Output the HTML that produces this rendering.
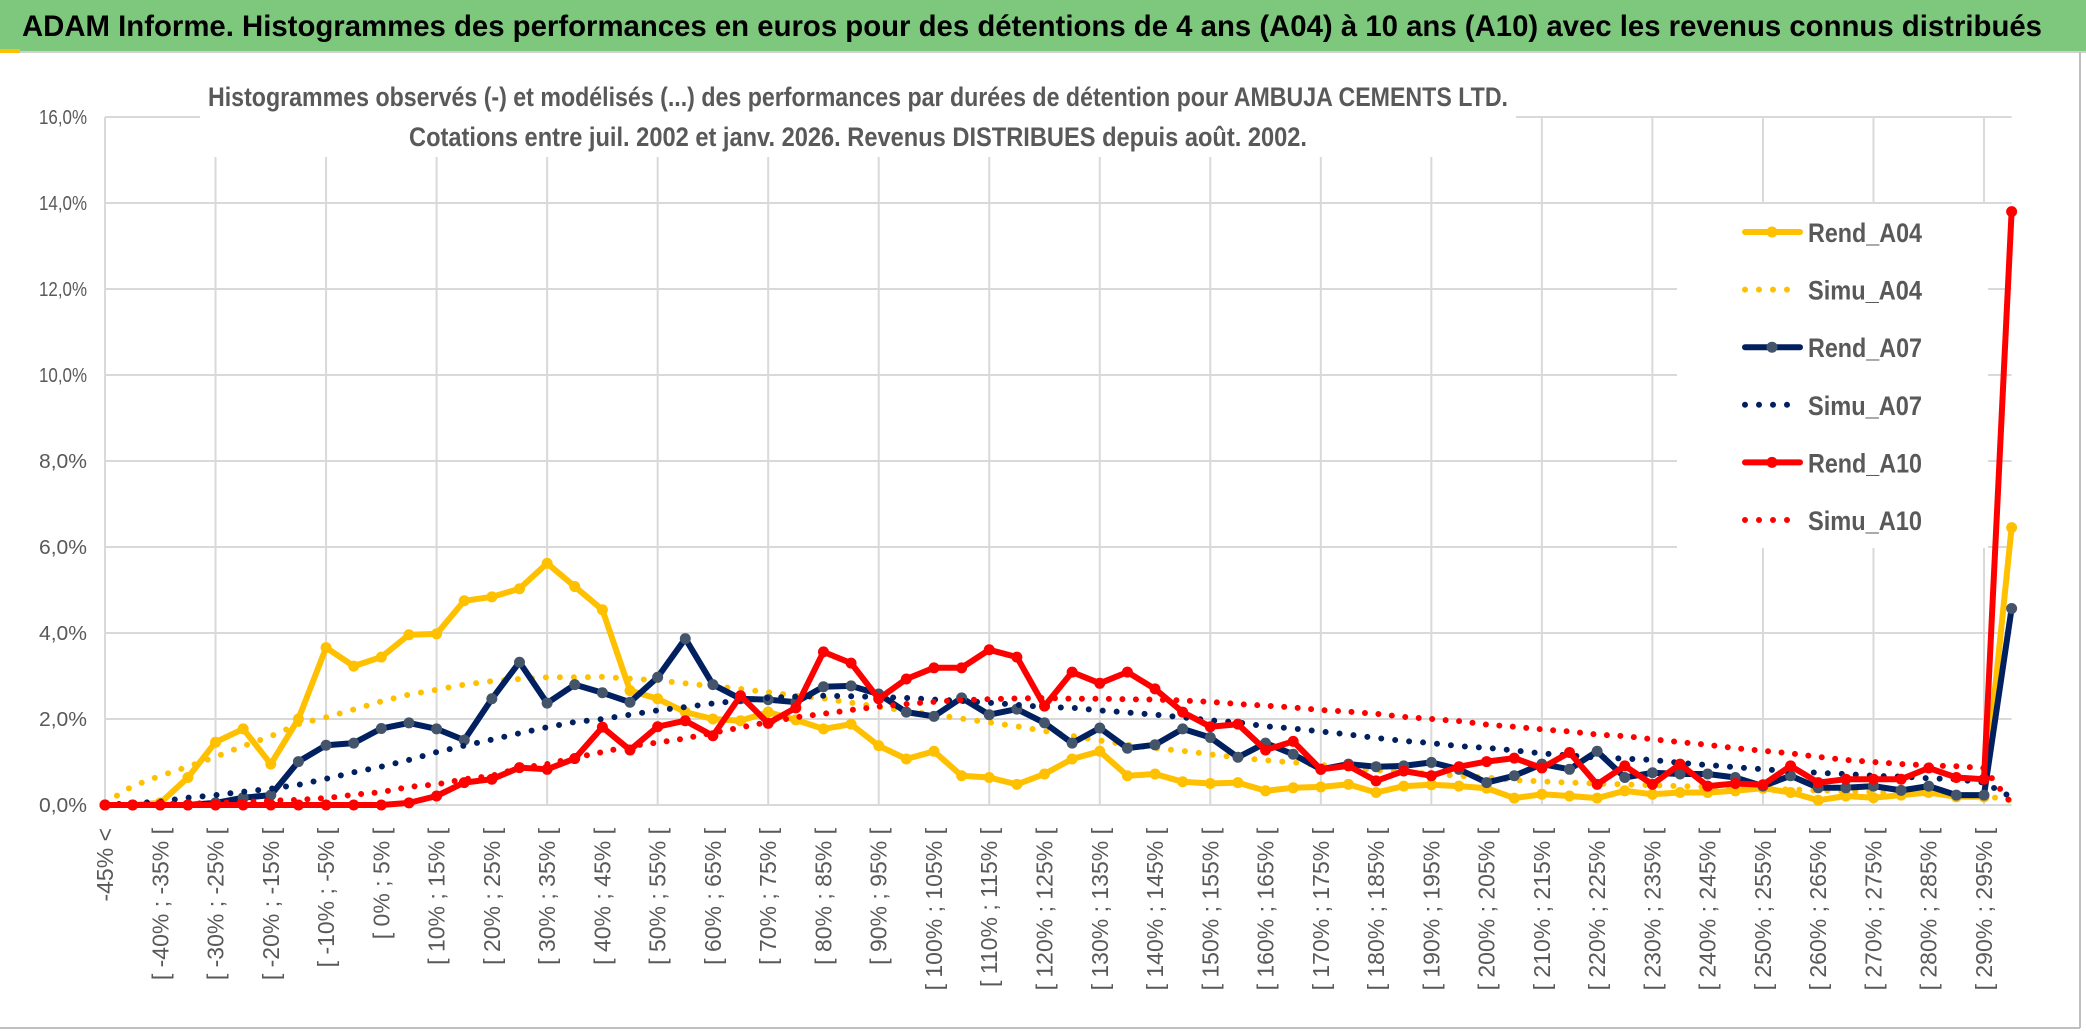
<!DOCTYPE html>
<html><head><meta charset="utf-8"><style>
html,body{margin:0;padding:0;background:#fff;}
svg{display:block;font-family:"Liberation Sans",sans-serif;}
</style></head><body>
<svg id="chart" width="2086" height="1031" viewBox="0 0 2086 1031" xmlns="http://www.w3.org/2000/svg">
<rect x="0" y="0" width="2086" height="1031" fill="#fff"/>
<rect x="0" y="0" width="2086" height="51" fill="#7ec87e"/>
<line x1="0" y1="52" x2="2086" y2="52" stroke="#d0d0d0" stroke-width="2"/>
<rect x="0" y="49" width="20" height="4" fill="#ffc000"/>
<text x="22" y="36" font-size="30" font-weight="bold" fill="#000" textLength="2020" lengthAdjust="spacingAndGlyphs">ADAM Informe. Histogrammes des performances en euros pour des détentions de 4 ans (A04) à 10 ans (A10) avec les revenus connus distribués</text>
<g id="grid"></g>
<g id="xlabels"></g>
<g id="ylabels"></g>
<rect x="200" y="60" width="1316" height="97" fill="#fff"/>
<text x="858" y="106" font-size="27" font-weight="bold" fill="#595959" text-anchor="middle" textLength="1300" lengthAdjust="spacingAndGlyphs">Histogrammes observés (-) et modélisés (...) des performances par durées de détention pour AMBUJA CEMENTS LTD.</text>
<text x="858" y="146" font-size="27" font-weight="bold" fill="#595959" text-anchor="middle" textLength="898" lengthAdjust="spacingAndGlyphs">Cotations entre juil. 2002 et janv. 2026. Revenus DISTRIBUES depuis août. 2002.</text>
<g id="series"></g>
<g id="legend"></g>
<line x1="2080" y1="52" x2="2080" y2="1028" stroke="#bfbfbf" stroke-width="2"/>
<line x1="0" y1="1028" x2="2080" y2="1028" stroke="#bfbfbf" stroke-width="2"/>
</svg>
<script>
const categories = ["-45% <"];
for (let a = -45; a < 295; a += 5) categories.push("[ " + a + "% ; " + (a + 5) + "% [");
categories.push("> 295%");
const yTicks = [0, 2, 4, 6, 8, 10, 12, 14, 16];
const yTickLabels = ["0,0%", "2,0%", "4,0%", "6,0%", "8,0%", "10,0%", "12,0%", "14,0%", "16,0%"];
const seriesNames = ["Rend_A04", "Simu_A04", "Rend_A07", "Simu_A07", "Rend_A10", "Simu_A10"];
const rendA04 = [0,0,0.05,0.64,1.46,1.77,0.95,2.0,3.66,3.23,
3.44,3.96,3.98,4.75,4.84,5.03,5.62,5.08,4.54,2.66,
2.47,2.16,2.0,1.96,2.16,1.98,1.77,1.88,1.38,1.07,
1.25,0.68,0.64,0.48,0.72,1.07,1.25,0.68,0.72,0.54,
0.5,0.52,0.33,0.4,0.42,0.48,0.29,0.44,0.47,0.44,
0.39,0.16,0.25,0.21,0.16,0.33,0.25,0.29,0.29,0.33,
0.39,0.29,0.11,0.21,0.17,0.23,0.29,0.19,0.19,6.45];
const simuA04 = [0.05,0.44,0.68,0.89,1.12,1.37,1.6,1.88,2.04,2.22,
2.41,2.57,2.68,2.8,2.88,2.93,2.97,2.97,2.98,2.94,
2.9,2.83,2.76,2.7,2.62,2.54,2.48,2.38,2.28,2.19,
2.1,2.01,1.92,1.83,1.72,1.61,1.5,1.4,1.32,1.26,
1.18,1.1,1.04,0.99,0.93,0.87,0.81,0.78,0.72,0.68,
0.64,0.58,0.55,0.52,0.5,0.48,0.46,0.44,0.42,0.4,
0.38,0.36,0.34,0.32,0.3,0.28,0.26,0.24,0.22,0.1];
const rendA07 = [0,0,0,0,0.05,0.17,0.23,1.01,1.39,1.44,
1.78,1.91,1.77,1.51,2.47,3.32,2.37,2.8,2.61,2.39,
2.97,3.87,2.8,2.47,2.45,2.39,2.75,2.77,2.58,2.16,
2.06,2.49,2.1,2.23,1.91,1.44,1.79,1.32,1.4,1.77,
1.57,1.11,1.44,1.18,0.83,0.95,0.89,0.91,0.99,0.83,
0.52,0.68,0.95,0.83,1.25,0.64,0.75,0.72,0.72,0.64,
0.44,0.68,0.4,0.4,0.44,0.34,0.44,0.23,0.23,4.57];
const simuA07 = [0.01,0.04,0.08,0.17,0.23,0.31,0.38,0.47,0.61,0.76,
0.89,1.05,1.23,1.38,1.52,1.67,1.81,1.93,2.0,2.1,
2.2,2.28,2.36,2.43,2.49,2.52,2.54,2.53,2.51,2.49,
2.45,2.42,2.38,2.33,2.28,2.26,2.2,2.15,2.1,2.04,
1.97,1.92,1.83,1.78,1.71,1.64,1.56,1.49,1.44,1.37,
1.33,1.27,1.2,1.15,1.1,1.08,1.05,0.98,0.93,0.88,
0.83,0.79,0.75,0.72,0.68,0.66,0.62,0.6,0.52,0.18];
const rendA10 = [0,0,0,0,0,0,0,0,0,0,
0,0.05,0.21,0.52,0.6,0.87,0.83,1.08,1.81,1.28,
1.82,1.96,1.61,2.54,1.9,2.26,3.56,3.3,2.47,2.93,
3.19,3.19,3.61,3.44,2.3,3.09,2.83,3.09,2.7,2.16,
1.82,1.88,1.28,1.48,0.83,0.91,0.56,0.79,0.68,0.89,
1.01,1.09,0.86,1.22,0.48,0.91,0.48,0.95,0.44,0.5,
0.47,0.91,0.52,0.6,0.6,0.6,0.86,0.64,0.6,13.8];
const simuA10 = [0,0.01,0.02,0.03,0.05,0.07,0.1,0.12,0.16,0.24,
0.3,0.42,0.48,0.6,0.68,0.86,0.95,1.1,1.23,1.37,
1.45,1.55,1.68,1.8,1.93,2.04,2.12,2.21,2.29,2.35,
2.4,2.44,2.46,2.48,2.49,2.47,2.47,2.46,2.45,2.43,
2.4,2.35,2.31,2.27,2.21,2.17,2.12,2.05,2.0,1.95,
1.87,1.82,1.76,1.71,1.64,1.6,1.53,1.46,1.4,1.32,
1.26,1.2,1.12,1.05,1.0,0.95,0.92,0.9,0.86,0.03];

const NS = "http://www.w3.org/2000/svg";
const X0 = 105, DX = (1984 - 105) / 68, Y0 = 805, PXPER = 43;
function xScale(i) { return X0 + DX * i; }
function yScale(v) { return Y0 - v * PXPER; }
function mk(tag, attrs, parent) {
  const e = document.createElementNS(NS, tag);
  for (const k in attrs) e.setAttribute(k, attrs[k]);
  parent.appendChild(e);
  return e;
}
const grid = document.getElementById("grid");
const xEnd = xScale(categories.length - 1);
yTicks.forEach((t, i) => {
  const l = mk("line", {x1: X0, x2: xEnd, y1: yScale(t), y2: yScale(t), stroke: "#d9d9d9", "stroke-width": 2}, grid);
  
  
  const tx = mk("text", {x: 87, y: yScale(t) + 7, "font-size": 20, fill: "#595959", "text-anchor": "end", textLength: 48, lengthAdjust: "spacingAndGlyphs"}, document.getElementById("ylabels"));
  tx.textContent = yTickLabels[i];
  
  
});
for (let i = 0; i < categories.length; i += 4) {
  const l = mk("line", {x1: xScale(i), x2: xScale(i), y1: yScale(16), y2: Y0, stroke: "#d9d9d9", "stroke-width": 2}, grid);
  
  
}
const xl = document.getElementById("xlabels");
categories.forEach((c, i) => {
  if (i % 2 !== 0 || i === categories.length - 1) return;
  const x = xScale(i) + 8, y = 828;
  const t = mk("text", {x: x, y: y, "font-size": 23, fill: "#595959", "text-anchor": "end", transform: "rotate(-90 " + x + " " + y + ")"}, xl);
  t.textContent = c;
  
  
});
const styles = [
  {data: rendA04, color: "#ffc000", marker: "#ffc000", dotted: false},
  {data: simuA04, color: "#ffc000", dotted: true, dash: 14},
  {data: rendA07, color: "#002060", marker: "#44546a", dotted: false},
  {data: simuA07, color: "#002060", dotted: true, dash: 14},
  {data: rendA10, color: "#ff0000", marker: "#ff0000", dotted: false},
  {data: simuA10, color: "#ff0000", dotted: true, dash: 13.5}
];
const sg = document.getElementById("series");
styles.forEach((s, si) => {
  const g = mk("g", {}, sg);
  
  
  const pts = s.data.map((v, i) => xScale(i).toFixed(1) + "," + yScale(v).toFixed(1)).join(" ");
  const pl = mk("polyline", {points: pts, fill: "none", stroke: s.color, "stroke-width": s.dotted ? 6 : 6, "stroke-linejoin": "round", "stroke-linecap": "round"}, g);
  if (s.dotted) pl.setAttribute("stroke-dasharray", "0 " + s.dash);
  
  
  if (!s.dotted) {
    s.data.forEach((v, i) => {
      const c = mk("circle", {cx: xScale(i), cy: yScale(v), r: 5.5, fill: s.marker}, g);
      
      
    });
  }
});
const lg = document.getElementById("legend");
const box = mk("rect", {x: 1677, y: 204, width: 311, height: 344, fill: "#fff"}, lg);


seriesNames.forEach((n, i) => {
  const y = 232 + i * 57.6, s = styles[i];
  const g = mk("g", {}, lg);
  
  
  const l = mk("line", {x1: 1745, x2: 1800, y1: y, y2: y, stroke: s.color, "stroke-width": 6, "stroke-linecap": "round"}, g);
  if (s.dotted) l.setAttribute("stroke-dasharray", "0 14");
  else mk("circle", {cx: 1772, cy: y, r: 5.5, fill: s.marker}, g);
  const t = mk("text", {x: 1808, y: y + 10, "font-size": 27, "font-weight": "bold", fill: "#595959", textLength: 114, lengthAdjust: "spacingAndGlyphs"}, g);
  t.textContent = n;
});
</script>
</body></html>
